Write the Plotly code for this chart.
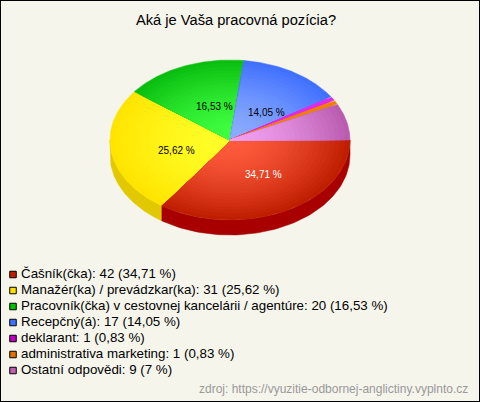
import numpy as np
import plotly.graph_objects as go

# Survey answers
title = 'Aká je Vaša pracovná pozícia?'
categories = ['Čašník(čka)', 'Manažér(ka) / prevádzkar(ka)',
              'Pracovník(čka) v cestovnej kancelárii / agentúre', 'Recepčný(á)',
              'deklarant', 'administrativa marketing', 'Ostatní odpovědi']
counts = [42, 31, 20, 17, 1, 1, 9]
percents = ['34,71 %', '25,62 %', '16,53 %', '14,05 %', '0,83 %', '0,83 %', '7 %']
source = 'zdroj: https://vyuzitie-odbornej-anglictiny.vyplnto.cz'

# Slice styling: colour in the middle, colour at the rim, colour of the side wall, legend box
center_colors = [(255, 92, 62), (255, 255, 40), (64, 255, 64), (140, 172, 255), (225, 40, 235), (240, 128, 0), (240, 160, 240)]
rim_colors = [(192, 30, 0), (255, 228, 0), (10, 190, 16), (64, 112, 255), (225, 40, 235), (240, 128, 0), (186, 92, 176)]
side_colors = ['#a80000', '#e2c800', '#0a9a0a', '#3058cc', '#b000b0', '#c06000', '#964c8c']
legend_colors = ['#c02000', '#ffe000', '#00c000', '#4070ff', '#c000c0', '#e07000', '#c060b0']
label_colors = ['white', 'black', 'black', 'black']
label_frac = [(0.61, 0.49), (0.45, 0.88), (0.34, 0.45), (0.58, 0.41)]  # only the big slices get a label

WIDTH, HEIGHT = 480, 402
CX, CY, RX, RY, DEPTH = 230, 140, 120, 80, 15
RINGS = 24

fig = go.Figure()


def add_poly(x, y, color):
    # hairline in the same colour closes the seams between neighbouring slices
    fig.add_trace(go.Scatter(x=x, y=y, mode='lines', fill='toself', fillcolor=color,
                             line=dict(width=0.5, color=color), hoverinfo='skip', showlegend=False))


edges = np.cumsum([0] + counts) / sum(counts) * 2 * np.pi

# side wall first, only the front half of the pie is visible
for i in range(len(counts)):
    a0, a1 = edges[i], min(edges[i + 1], np.pi)
    if a0 >= np.pi:
        continue
    t = np.linspace(a0, a1, 80)
    x = CX + RX * np.cos(t)
    y = CY + RY * np.sin(t)
    add_poly(np.r_[x, x[::-1], x[0]], np.r_[y, y[::-1] + DEPTH, y[0]], side_colors[i])

# top face, radial gradient faked with shrinking wedges
for i in range(len(counts)):
    t = np.linspace(edges[i], edges[i + 1], 120)
    for r in np.linspace(1, 1 / RINGS, RINGS):
        rgb = [round(c + (e - c) * r ** 1.6) for c, e in zip(center_colors[i], rim_colors[i])]
        add_poly(np.r_[CX, CX + r * RX * np.cos(t), CX], np.r_[CY, CY + r * RY * np.sin(t), CY],
                 'rgb(%d,%d,%d)' % tuple(rgb))

# percent labels on the slices
for i, (fx, fy) in enumerate(label_frac):
    mid = (edges[i] + edges[i + 1]) / 2
    fig.add_annotation(x=CX + fx * RX * np.cos(mid), y=CY + fy * RY * np.sin(mid), text=percents[i],
                       showarrow=False, font=dict(size=10, color=label_colors[i]))

# legend
LEG_STEP = 16
rows = LEG_STEP * np.arange(len(categories))
fig.add_trace(go.Scatter(x=[13] * len(categories), y=274.5 + rows, mode='markers', hoverinfo='skip', showlegend=False,
                         marker=dict(symbol='square', size=6.5, color=legend_colors, line=dict(color='black', width=1))))
for name, n, pct, y in zip(categories, counts, percents, 273.5 + rows):
    fig.add_annotation(x=20, y=y, xanchor='left', text='%s: %d (%s)' % (name, n, pct), showarrow=False,
                       font=dict(size=13.33, color='black'), xshift=-1)

fig.add_annotation(x=236, y=20, text=title, showarrow=False, font=dict(size=14.67, color='black'))
fig.add_annotation(x=470, y=389, xanchor='right', text=source, showarrow=False, font=dict(size=12, color='#999999'))

fig.update_layout(
    width=WIDTH, height=HEIGHT, margin=dict(l=0, r=0, t=0, b=0),
    paper_bgcolor='#f5f5ec', plot_bgcolor='#f5f5ec',
    font=dict(family='Liberation Sans'),
    xaxis=dict(range=[0, WIDTH], visible=False, fixedrange=True),
    yaxis=dict(range=[HEIGHT, 0], visible=False, fixedrange=True),
    shapes=[dict(type='rect', xref='paper', yref='paper', x0=0, x1=1, y0=0, y1=1, line=dict(color='black', width=2))],
)

fig.write_html('out.html', config={'displayModeBar': False},
               post_script="document.body.style.margin='0';document.body.style.overflow='hidden';")
